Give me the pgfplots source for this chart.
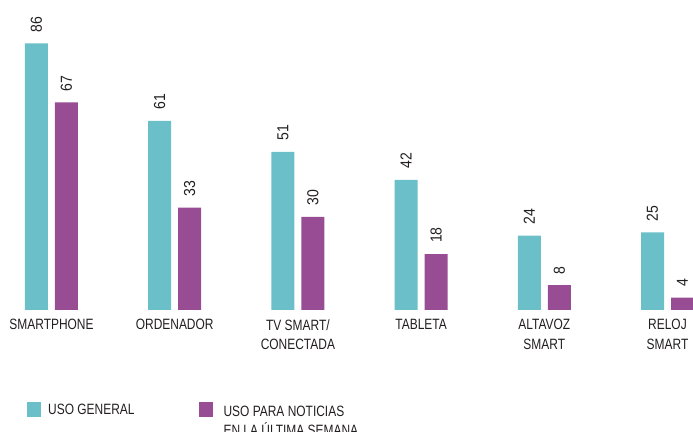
\documentclass[border=0pt]{standalone}
\usepackage{pgfplots}
\pgfplotsset{compat=1.18}
\usepackage{fontspec}
\setmainfont{Liberation Sans}
\newfontfamily\cond[FakeStretch=0.8]{Liberation Sans}
\newfontfamily\numf[FakeStretch=0.88]{Liberation Sans}
\definecolor{cyanb}{HTML}{6BBFC9}
\definecolor{purpb}{HTML}{984C94}
\definecolor{txt}{HTML}{231F20}
\pgfplotsset{sqlegend/.style={legend image code/.code={\fill[##1] (0bp,-7.5bp) rectangle (14bp,7.5bp);}}}
\begin{document}
\begin{tikzpicture}
\useasboundingbox (0,0) rectangle (693bp,432bp);
\clip (0,0) rectangle (693bp,432bp);
\begin{axis}[
  at={(0bp,122bp)}, anchor=south west,
  scale only axis, width=693bp, height=310bp,
  xmin=-0.418, xmax=5.207,
  ymin=0, ymax=100,
  ybar=7bp, bar width=23bp,
  axis line style={draw=none},
  major tick length=0pt,
  ytick=\empty,
  xtick={0,1,2,3,4,5},
  xticklabels={SMARTPHONE, ORDENADOR, {TV SMART/\\CONECTADA}, TABLETA, {ALTAVOZ\\SMART}, {RELOJ\\SMART}},
  xticklabel style={align=center, font=\cond\fontsize{15}{20}\selectfont, text=txt, anchor=north, inner sep=0pt, yshift=-9bp},
  /pgf/number format/assume math mode=true,
  nodes near coords,
  every node near coord/.append style={rotate=90, anchor=west, inner ysep=0pt, inner xsep=11bp, font=\numf\fontsize{16}{18}\selectfont, text=txt},
  legend columns=2,
  legend style={at={(axis description cs:0.039,-0.2903)}, anchor=north west, draw=none, fill=none, inner sep=0pt,
    font=\cond\fontsize{15}{20}\selectfont, text=txt,
    /tikz/every odd column/.append style={column sep=5bp},
    /tikz/every even column/.append style={column sep=62bp}},
]
\addplot[fill=cyanb, draw=none, sqlegend] coordinates {(0,86) (1,61) (2,51) (3,42) (4,24) (5,25)};
\addplot[fill=purpb, draw=none, sqlegend] coordinates {(0,67) (1,33) (2,30) (3,18) (4,8) (5,4)};
\addlegendentry{USO GENERAL}
\addlegendentry{\begin{tabular}[t]{@{\hspace{4bp}}l@{}}USO PARA NOTICIAS\\[-1bp]EN LA ÚLTIMA SEMANA\end{tabular}}
\end{axis}
\end{tikzpicture}
\end{document}
